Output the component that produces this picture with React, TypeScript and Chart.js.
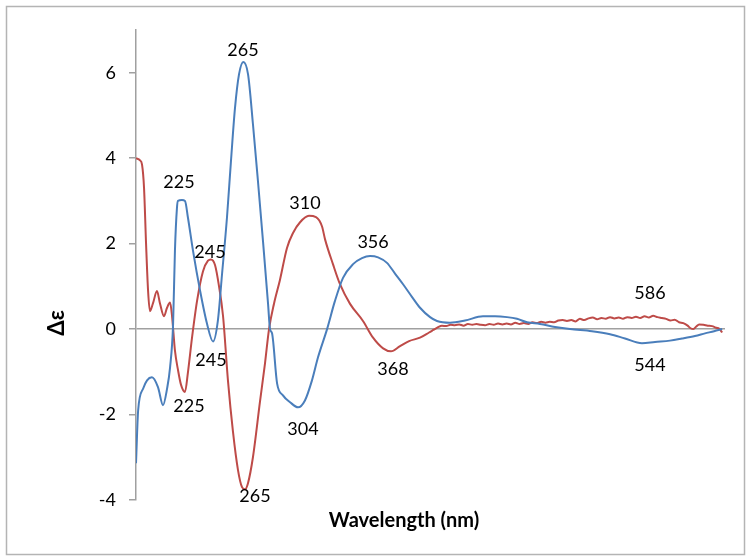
import React, { useEffect, useRef } from "react";
import { Chart, registerables } from "chart.js";

Chart.register(...registerables);

// Wavelength (nm) / Δε pairs
const blueX = [190, 191.5, 195, 197.7, 201.1, 205.3, 208.8, 211.6, 213.7, 215.8, 217.1, 218.5, 219.2, 222, 224.1, 226.2, 229.7, 234.6, 239.4, 243.6, 247, 249.9, 253.3, 256.1, 258.9, 261.7, 264.7, 268, 271.4, 274.9, 278.4, 281.9, 283.3, 284.7, 288.2, 292.3, 297.2, 302.8, 307.6, 312.5, 316.7, 323, 328.5, 334.1, 341.1, 347.3, 352.9, 358.5, 364.7, 370.3, 375.9, 382.2, 387.7, 394.7, 399.5, 408.6, 419, 431.5, 439.9, 448.3, 455.2, 462.2, 471.2, 481.7, 492.1, 507.4, 520, 530.4, 542.2, 551.3, 561.7, 570.1, 579.1, 586.1, 592.4, 598];
const blueY = [-3.14, -1.9, -1.39, -1.2, -1.13, -1.36, -1.78, -1.4, -0.9, 0.1, 1.83, 2.83, 3.0, 3.02, 3.0, 2.6, 1.83, 0.9, 0.13, -0.29, 0.2, 1.29, 2.6, 3.93, 5.17, 5.96, 6.25, 5.96, 4.8, 3.46, 2.06, 0.6, 0.0, -0.1, -1.27, -1.55, -1.71, -1.83, -1.67, -1.2, -0.66, 0.0, 0.66, 1.2, 1.52, 1.66, 1.71, 1.68, 1.55, 1.3, 1.05, 0.75, 0.5, 0.28, 0.19, 0.15, 0.2, 0.3, 0.3, 0.28, 0.24, 0.16, 0.12, 0.05, 0.0, -0.05, -0.12, -0.22, -0.33, -0.3, -0.27, -0.22, -0.16, -0.1, -0.05, 0.0];

const redX = [190, 192.8, 194.2, 195.6, 197, 198.4, 199.7, 201.8, 204.6, 206.7, 209.5, 211.6, 213.7, 215.1, 217.1, 219.2, 221.3, 224.1, 226.2, 229, 232.5, 236.6, 240.1, 242.2, 245, 247.8, 250.6, 254, 257.5, 261, 263.8, 265.9, 268, 271.4, 276.3, 279.8, 282.6, 286.1, 290.2, 295.1, 299.3, 304.2, 310.4, 315.3, 319.5, 321.6, 327.1, 332, 339, 348, 355, 362, 367.5, 373.8, 380.1, 387.7, 394, 397, 400, 403, 406, 409, 412, 415, 418, 421, 424, 427, 430, 433, 436, 439, 442, 445, 448, 451, 454, 457, 460, 463, 466, 469, 472, 475, 478, 481, 484, 487, 490, 493, 496, 499, 502, 505, 508, 511, 514, 517, 520, 523, 526, 529, 532, 535, 538, 541, 544, 547, 550, 553, 556, 559, 562, 565, 568, 571, 574, 576, 578, 580, 582, 585, 588, 591, 594, 596, 598];
const redY = [4.0, 3.95, 3.85, 3.3, 2.0, 0.9, 0.42, 0.6, 0.89, 0.6, 0.3, 0.5, 0.62, 0.3, -0.5, -0.95, -1.3, -1.47, -1.0, -0.2, 0.66, 1.35, 1.6, 1.63, 1.5, 1.0, 0.3, -1.2, -2.4, -3.3, -3.7, -3.75, -3.6, -3.0, -1.7, -0.8, 0.0, 0.6, 1.15, 1.9, 2.25, 2.5, 2.65, 2.62, 2.4, 2.1, 1.52, 1.05, 0.59, 0.19, -0.2, -0.45, -0.52, -0.4, -0.28, -0.2, -0.08, -0.02, 0.04, 0.08, 0.07, 0.1, 0.09, 0.11, 0.08, 0.12, 0.1, 0.12, 0.1, 0.09, 0.12, 0.1, 0.13, 0.11, 0.13, 0.11, 0.15, 0.12, 0.14, 0.12, 0.16, 0.14, 0.17, 0.15, 0.17, 0.16, 0.2, 0.21, 0.19, 0.21, 0.18, 0.24, 0.21, 0.25, 0.27, 0.23, 0.26, 0.24, 0.28, 0.25, 0.27, 0.24, 0.28, 0.26, 0.29, 0.26, 0.3, 0.27, 0.31, 0.28, 0.26, 0.24, 0.2, 0.22, 0.16, 0.14, 0.08, 0.02, 0.0, 0.06, 0.11, 0.1, 0.08, 0.07, 0.03, 0.01, -0.08];

const yTicks = [-4, -2, 0, 2, 4, 6];

const annotationTexts = ["265", "225", "245", "310", "356", "245", "225", "304", "265", "368", "544", "586"];
const annotationX = [264.5, 219.9, 241.5, 307.6, 355.0, 242.2, 226.9, 306.2, 272.8, 368.9, 547.8, 547.8];
const annotationY = [6.52, 3.44, 1.81, 2.95, 2.04, -0.73, -1.81, -2.34, -3.91, -0.94, -0.85, 0.83];

const xTitle = "Wavelength (nm)";
const yTitle = "Δε";

export default function App() {
  const ref = useRef<HTMLCanvasElement | null>(null);

  useEffect(() => {
    document.body.style.margin = "0";
    const canvas = ref.current;
    if (!canvas) return;

    const framePlugin = {
      id: "frame",
      beforeDraw(chart: any) {
        const ctx = chart.ctx;
        ctx.save();
        ctx.fillStyle = "#ffffff";
        ctx.fillRect(0, 0, chart.width, chart.height);
        ctx.strokeStyle = "#b4b4b4";
        ctx.lineWidth = 1.5;
        ctx.strokeRect(6.5, 6.5, 738, 548);
        ctx.restore();
      },
      afterDraw(chart: any) {
        const ctx = chart.ctx;
        const xs = chart.scales.x;
        const ys = chart.scales.y;
        ctx.save();
        ctx.fillStyle = "#000000";
        ctx.textAlign = "center";
        ctx.textBaseline = "middle";
        ctx.font = "18px Lato";
        annotationTexts.forEach((t, i) => {
          ctx.fillText(t, xs.getPixelForValue(annotationX[i]), ys.getPixelForValue(annotationY[i]));
        });
        ctx.font = "bold 20px Lato";
        ctx.fillText(xTitle, 404, 521);
        ctx.translate(57, 323);
        ctx.rotate(-Math.PI / 2);
        ctx.font = "bold 22px Lato";
        ctx.fillText(yTitle, 0, 0);
        ctx.restore();
      },
    };

    const chart = new Chart(canvas, {
      type: "line",
      data: {
        datasets: [
          {
            label: "blue",
            data: blueX.map((x, i) => ({ x, y: blueY[i] })),
            borderColor: "#4a7ebb",
            borderWidth: 2,
            pointRadius: 0,
            cubicInterpolationMode: "monotone",
            fill: false,
          },
          {
            label: "red",
            data: redX.map((x, i) => ({ x, y: redY[i] })),
            borderColor: "#be4b48",
            borderWidth: 2,
            pointRadius: 0,
            cubicInterpolationMode: "monotone",
            fill: false,
          },
        ],
      },
      options: {
        responsive: false,
        animation: false,
        layout: { padding: { top: 30, right: 27, bottom: 60, left: 0 } },
        plugins: { legend: { display: false }, tooltip: { enabled: false } },
        scales: {
          x: {
            type: "linear",
            min: 190,
            max: 600,
            display: false,
          },
          y: {
            type: "linear",
            min: -4,
            max: 7,
            afterBuildTicks: (scale: any) => {
              scale.ticks = yTicks.map((v) => ({ value: v }));
            },
            afterFit: (scale: any) => {
              scale.width = 136;
            },
            border: { display: true, color: "#a0a0a0", width: 1.5 },
            grid: {
              color: (c: any) => (c.tick && c.tick.value === 0 ? "#a0a0a0" : "rgba(0,0,0,0)"),
              lineWidth: 1.5,
              tickColor: "#a0a0a0",
              tickLength: 7,
            },
            ticks: {
              color: "#000000",
              padding: 13,
              font: { family: "Lato", size: 18 },
            },
          },
        },
      },
      plugins: [framePlugin],
    } as any);

    return () => chart.destroy();
  }, []);

  return (
    <div style={{ width: 752, height: 560 }}>
      <canvas ref={ref} width={752} height={560} style={{ display: "block" }} />
    </div>
  );
}
